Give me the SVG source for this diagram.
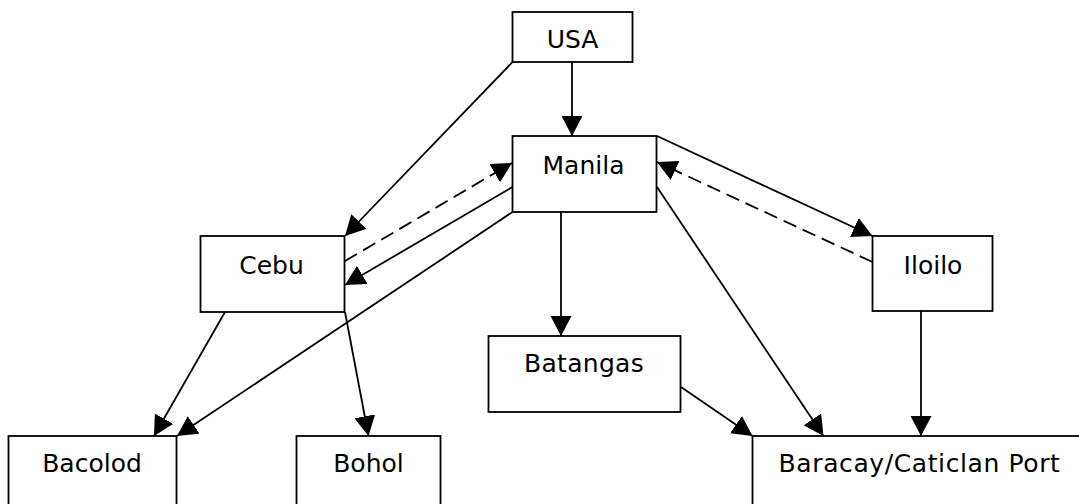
<svg xmlns="http://www.w3.org/2000/svg" width="1079" height="504" viewBox="0 0 1079 504">
<style>
.box{fill:#fff;stroke:#000;stroke-width:1.8}
.lbl{font-family:"DejaVu Sans","Verdana",sans-serif;font-size:25px;fill:#000;text-anchor:middle}
.c{fill:none;stroke:#000;stroke-width:1.8}
.d{stroke-dasharray:14 7}
</style>
<defs>
<marker id="ah" markerUnits="userSpaceOnUse" markerWidth="21" markerHeight="22" refX="20" refY="10.5" orient="auto" viewBox="0 0 21 22">
<path d="M0,0 L20,10.5 L0,21 z" fill="#000"/>
</marker>
</defs>
<rect width="1079" height="504" fill="#fff"/>
<g id="connectors">
<line class="c" x1="572" y1="62" x2="572" y2="136" marker-end="url(#ah)"/>
<line class="c" x1="512.5" y1="62" x2="345" y2="236" marker-end="url(#ah)"/>
<line class="c d" x1="345" y1="261" x2="512" y2="163" marker-end="url(#ah)"/>
<line class="c" x1="512.5" y1="187" x2="345" y2="285" marker-end="url(#ah)"/>
<line class="c" x1="512.5" y1="212" x2="177" y2="436" marker-end="url(#ah)"/>
<line class="c" x1="225" y1="312" x2="154" y2="436" marker-end="url(#ah)"/>
<line class="c" x1="345" y1="312" x2="368.5" y2="436" marker-end="url(#ah)"/>
<line class="c" x1="561" y1="212" x2="561" y2="336" marker-end="url(#ah)"/>
<line class="c" x1="681" y1="387" x2="752.5" y2="436" marker-end="url(#ah)"/>
<line class="c" x1="657" y1="187" x2="823.5" y2="436" marker-end="url(#ah)"/>
<line class="c" x1="657" y1="136" x2="872.5" y2="236" marker-end="url(#ah)"/>
<line class="c d" x1="872.5" y1="262" x2="657" y2="162" marker-end="url(#ah)"/>
<line class="c" x1="921" y1="311" x2="921" y2="436" marker-end="url(#ah)"/>
</g>
<g id="usa"><rect class="box" x="512.5" y="12" width="120" height="50"/><text class="lbl" x="572.5" y="48">USA</text></g>
<g id="manila"><rect class="box" x="512.5" y="136" width="144" height="76"/><text class="lbl" x="583.5" y="174">Manila</text></g>
<g id="cebu"><rect class="box" x="200.5" y="236" width="144" height="76"/><text class="lbl" x="271.5" y="274">Cebu</text></g>
<g id="iloilo"><rect class="box" x="872.5" y="236" width="120" height="75"/><text class="lbl" x="933" y="273.5">Iloilo</text></g>
<g id="batangas"><rect class="box" x="488.5" y="336" width="192" height="76"/><text class="lbl" x="584" y="372" letter-spacing="0.3">Batangas</text></g>
<g id="bacolod"><rect class="box" x="8.5" y="436" width="168" height="76"/><text class="lbl" x="92" y="472">Bacolod</text></g>
<g id="bohol"><rect class="box" x="296.5" y="436" width="144" height="76"/><text class="lbl" x="368.5" y="472">Bohol</text></g>
<g id="baracay"><rect class="box" x="752.5" y="436" width="332" height="76"/><text class="lbl" x="919.5" y="471.5" letter-spacing="0.6">Baracay/Caticlan Port</text></g>
</svg>
